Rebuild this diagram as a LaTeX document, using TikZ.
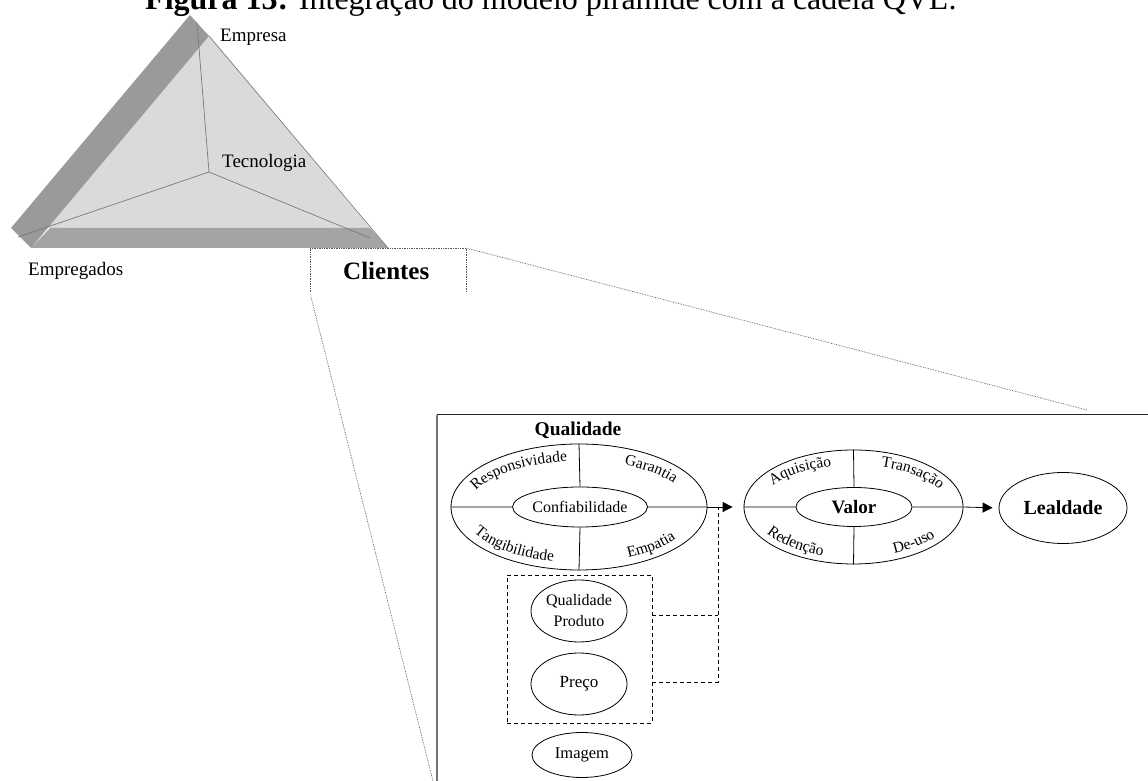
\documentclass[tikz,border=0pt]{standalone}
\usepackage{fontspec}
\setmainfont{Liberation Serif}
\usetikzlibrary{shapes.geometric,arrows.meta,decorations.text,calc}

\definecolor{bandgray}{HTML}{9A9A9A}
\definecolor{basegray}{HTML}{A4A4A4}
\definecolor{facegray}{HTML}{DADADA}
\definecolor{edgegray}{HTML}{7A7A7A}
\definecolor{dotgray}{HTML}{555555}

\newcommand\fsz[1]{\fontsize{#1}{#1}\selectfont}
% text set along an elliptic arc around a node centre:
% #1 centre, #2 start angle, #3 end angle, #4 x radius, #5 y radius, #6 text
\newcommand\ovallabel[6]{%
  \path[decorate, decoration={text along path, text align=center,
      text={|\fsz{15.5}|#6}}]
    ([shift={(#2:#4 and #5)}]#1) arc[start angle=#2, end angle=#3,
      x radius=#4, y radius=#5];}

\begin{document}
\begin{tikzpicture}[x=1pt, y=1pt,
  oval/.style={ellipse, draw, line width=0.8pt, inner sep=0pt},
  plain/.style={inner sep=0pt, font=\fsz{19}},
  boldlbl/.style={inner sep=0pt, font=\fsz{19.5}\bfseries},
  conn/.style={line width=0.8pt, -{Triangle[length=10pt,width=10pt]}},
  dashln/.style={line width=0.8pt, dash pattern=on 4pt off 3pt},
  zoomln/.style={line width=0.7pt, dotgray, densely dotted},
  ridge/.style={line width=0.7pt, edgegray}]

\path[use as bounding box] (0,0) rectangle (1148,781);
\clip (0,0) rectangle (1148,781);

% caption
\node[anchor=base west, inner sep=0pt] (title) at (145,771)
  {\fsz{32}\textbf{Figura 13:} Integração do modelo pirâmide com a cadeia QVL.};

% ---------- pyramid ----------
\fill[facegray] (209,745) -- (48,553) -- (370,553) -- cycle;
\fill[basegray] (31,533) -- (50,553) -- (370,553) -- (388,533) -- cycle;
\fill[bandgray] (190,766) -- (209,745) -- (31,533) -- (11,553) -- cycle;
\draw[ridge] (209,745) -- (388,533);
\coordinate (apexin) at (197,758);
\coordinate (core) at (209,609);
\coordinate (leftfoot) at (18,544);
\coordinate (rightfoot) at (370,543);
\draw[ridge] (apexin) -- (core);
\draw[ridge] (core) -- (leftfoot);
\draw[ridge] (core) -- (rightfoot);

\node[plain, anchor=base west] (empresa) at (220,739) {Empresa};
\node[plain, anchor=base west] (tecno) at (222,613) {Tecnologia};
\node[plain, anchor=base west] (empreg) at (28,505) {Empregados};

% Clientes tab
\coordinate (tabbl) at (310,489);
\coordinate (tabtl) at (310,533);
\coordinate (tabtr) at (466,533);
\coordinate (tabbr) at (466,489);
\draw[zoomln] (tabbl) -- (tabtl) -- (tabtr) -- (tabbr);
\node[anchor=base west, inner sep=0pt, font=\fsz{25}\bfseries] (clientes) at (343,501) {Clientes};

% zoom lines
\coordinate (zoomtop) at (1087,371);
\coordinate (zoomlow) at (433,0);
\coordinate (tabfoot) at (311,484);
\draw[zoomln] (tabtr) -- (zoomtop);
\draw[zoomln] (tabfoot) -- (zoomlow);

% detail frame
\coordinate (frame) at (437,366);
\draw[line width=1pt, black!85] (frame) -- (1160,366);
\draw[line width=1.6pt, black!55] (frame) -- (437,-10);

% ---------- Qualidade ----------
\node[oval, minimum width=256pt, minimum height=126pt] (qo) at (579,274) {};
\node[oval, minimum width=135pt, minimum height=40pt, font=\fsz{16}] (qi) at (580,274) {Confiabilidade};
\draw[line width=0.8pt] (qo.north) -- (qi.north) (qi.south) -- (qo.south)
                        (qo.west) -- (qi.west) (qi.east) -- (qo.east);
\node[boldlbl] (qlabel) at (578,351) {Qualidade};
\ovallabel{qo.center}{168}{92}{110}{46}{Responsividade}
\ovallabel{qo.center}{72}{20}{110}{46}{Garantia}
\ovallabel{qo.center}{188}{268}{118}{56}{Tangibilidade}
\ovallabel{qo.center}{285}{340}{118}{56}{Empatia}

% ---------- Valor ----------
\node[oval, minimum width=219pt, minimum height=114pt] (vo) at (853.5,274) {};
\node[oval, minimum width=116pt, minimum height=39pt, font=\fsz{19}\bfseries] (vi) at (854,274) {Valor};
\draw[line width=0.8pt] (vo.north) -- (vi.north) (vi.south) -- (vo.south)
                        (vo.west) -- (vi.west) (vi.east) -- (vo.east);
\ovallabel{vo.center}{162}{96}{94}{42}{Aquisição}
\ovallabel{vo.center}{78}{15}{94}{42}{Transação}
\ovallabel{vo.center}{195}{262}{101}{51}{Redenção}
\ovallabel{vo.center}{285}{337}{101}{51}{De-uso}

% ---------- Lealdade ----------
\node[oval, minimum width=128pt, minimum height=71pt, font=\fsz{20}\bfseries] (le) at (1063,273) {Lealdade};

\draw[conn, shorten >=11pt] (qo.east) -- (vo.west);
\draw[conn, shorten >=6pt] (vo.east) -- (le.west);

% ---------- product group ----------
\node[draw, dashln, minimum width=145pt, minimum height=148pt, inner sep=0pt] (grp) at (579.5,132) {};
\node[oval, minimum width=96pt, minimum height=62pt, align=center, font=\fsz{16}] (qp) at (579,170) {Qualidade\\[5pt]Produto};
\node[oval, minimum width=96pt, minimum height=62pt, font=\fsz{17}] (preco) at (579,97) {Preço};
\node[oval, minimum width=100pt, minimum height=45pt, font=\fsz{16.5}] (imagem) at (582,26) {Imagem};

\coordinate (j1) at (718,166);
\coordinate (j2) at (718,99);
\coordinate (jtop) at (718,274);
\draw[dashln] (grp.east |- j1) -- (j1);
\draw[dashln] (grp.east |- j2) -- (j2) -- (jtop);

\end{tikzpicture}
\end{document}
